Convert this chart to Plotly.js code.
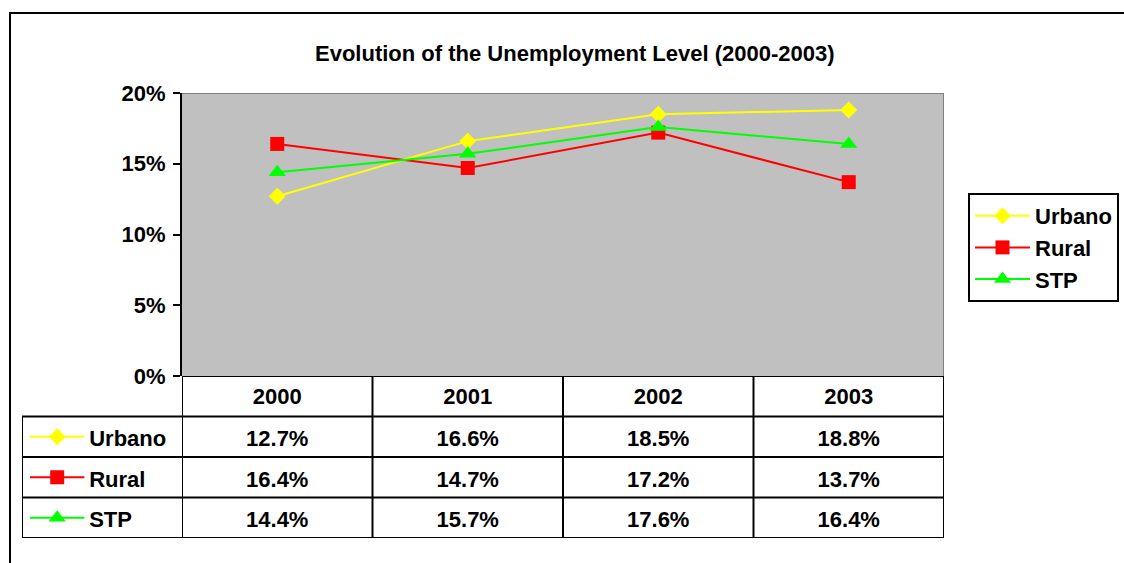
<!DOCTYPE html>
<html>
<head>
<meta charset="utf-8">
<script src="https://cdn.plot.ly/plotly-3.0.1.min.js"></script>
<style>html,body{margin:0;padding:0;background:#fff;}#chart{width:1124px;height:563px;}</style>
</head>
<body>
<div id="chart"></div>
<script>
const years = ['2000', '2001', '2002', '2003'];
const seriesNames = ['Urbano', 'Rural', 'STP'];
const urbano = [12.7, 16.6, 18.5, 18.8];
const rural = [16.4, 14.7, 17.2, 13.7];
const stp = [14.4, 15.7, 17.6, 16.4];
const yTicks = [0, 5, 10, 15, 20];

const values = [urbano, rural, stp];
const colors = ['#FFFF00', '#FF0000', '#00FF00'];
const symbols = ['diamond', 'square', 'triangle-up'];
const sizes = [13, 14, 15];

const W = 1124, H = 563;
const px = v => v / W, py = v => 1 - v / H;
const FONT = 'Liberation Sans, Arial, Helvetica, sans-serif';
const font = {family: FONT, size: 22, color: '#000', weight: 'bold'};

const traces = [];
values.forEach((vals, i) => {
  traces.push({
    type: 'scatter', mode: 'lines+markers', name: seriesNames[i],
    x: years, y: vals, xaxis: 'x', yaxis: 'y',
    line: {color: colors[i], width: 2},
    marker: {symbol: symbols[i], size: sizes[i], color: colors[i], line: {width: 0}},
    hoverinfo: 'skip'
  });
  // key inside data table
  traces.push({
    type: 'scatter', mode: 'lines', showlegend: false,
    x: [0.05, 0.39], y: [i, i], xaxis: 'x2', yaxis: 'y2',
    line: {color: colors[i], width: 2}, hoverinfo: 'skip'
  });
  traces.push({
    type: 'scatter', mode: 'markers', showlegend: false,
    x: [0.22], y: [i], xaxis: 'x2', yaxis: 'y2',
    marker: {symbol: symbols[i], size: sizes[i], color: colors[i], line: {width: 0}},
    hoverinfo: 'skip'
  });
});
// key labels in data table
traces.push({
  type: 'scatter', mode: 'text', showlegend: false,
  x: seriesNames.map(() => 0.42), y: seriesNames.map((_, i) => i),
  text: seriesNames, textposition: 'middle right', textfont: font,
  xaxis: 'x4', yaxis: 'y3', hoverinfo: 'skip'
});
// header years
traces.push({
  type: 'scatter', mode: 'text', showlegend: false,
  x: years, y: years.map(() => -1), text: years, textposition: 'middle center',
  textfont: font, xaxis: 'x3', yaxis: 'y4', hoverinfo: 'skip'
});
// cell values
values.forEach((vals, i) => {
  traces.push({
    type: 'scatter', mode: 'text', showlegend: false,
    x: years, y: vals.map(() => i), text: vals.map(v => v.toFixed(1) + '%'),
    textposition: 'middle center', textfont: font, xaxis: 'x3', yaxis: 'y3', hoverinfo: 'skip'
  });
});

const shapes = [];
const annotations = [];
const BL = {color: '#000', width: 2};
// outer frame
shapes.push({type: 'rect', xref: 'paper', yref: 'paper', x0: px(10), x1: 1.05, y0: -0.05, y1: py(13), line: BL, layer: 'below'});
// plot area gray background
shapes.push({type: 'rect', xref: 'x', yref: 'y', x0: -0.5, x1: 3.5, y0: 0, y1: 20, fillcolor: '#C0C0C0', line: {width: 0}, layer: 'below'});
// plot area gray border (top & right)
shapes.push({type: 'line', xref: 'x', yref: 'y', x0: -0.5, x1: 3.5, y0: 20, y1: 20, line: {color: '#808080', width: 2}});
shapes.push({type: 'line', xref: 'x', yref: 'y', x0: 3.5, x1: 3.5, y0: 0, y1: 20, line: {color: '#808080', width: 2}});
// table vertical lines
for (let k = 0; k <= years.length; k++) {
  shapes.push({type: 'line', xref: 'x3', yref: 'y2', x0: k - 0.5, x1: k - 0.5, y0: -1.5, y1: seriesNames.length - 0.5, line: BL});
}
// table horizontal lines
shapes.push({type: 'line', xref: 'x3', yref: 'y2', x0: -0.5, x1: years.length - 0.5, y0: -1.5, y1: -1.5, line: BL});
for (let r = 0; r <= seriesNames.length; r++) {
  shapes.push({type: 'line', xref: 'x2', yref: 'y2', x0: 0, x1: 1, y0: r - 0.5, y1: r - 0.5, line: BL});
  shapes.push({type: 'line', xref: 'x3', yref: 'y2', x0: -0.5, x1: years.length - 0.5, y0: r - 0.5, y1: r - 0.5, line: BL});
}
shapes.push({type: 'line', xref: 'x2', yref: 'y2', x0: 0, x1: 0, y0: -0.5, y1: seriesNames.length - 0.5, line: BL});

// title
annotations.push({xref: 'paper', yref: 'paper', x: px(575), y: py(54), xanchor: 'center', yanchor: 'middle',
  text: 'Evolution of the Unemployment Level (2000-2003)', showarrow: false, font});

const rowRange = [seriesNames.length - 0.5, -1.5];
const layout = {
  width: W, height: H,
  margin: {l: 0, r: 0, t: 0, b: 0},
  paper_bgcolor: '#fff',
  plot_bgcolor: 'rgba(0,0,0,0)',
  showlegend: true,
  legend: {
    x: px(968), y: py(193), xanchor: 'left', yanchor: 'top',
    bordercolor: '#000', borderwidth: 2, bgcolor: '#fff',
    font, itemwidth: 55, tracegroupgap: 0
  },
  xaxis: {
    domain: [px(182), px(944)], type: 'category', categoryarray: years,
    range: [-0.5, 3.5], showticklabels: false, ticks: '', showgrid: false,
    zeroline: false, showline: false, fixedrange: true
  },
  yaxis: {
    domain: [py(376), py(93)], range: [0, 20], tickvals: yTicks,
    ticktext: yTicks.map(t => t + '%'), ticks: 'outside', ticklen: 7, tickwidth: 2,
    tickcolor: '#000', showline: true, linecolor: '#000', linewidth: 2,
    showgrid: false, zeroline: false, tickfont: font, ticklabelstandoff: 3, fixedrange: true
  },
  xaxis2: {domain: [px(22), px(182)], range: [0, 1], visible: false, anchor: 'y2', fixedrange: true},
  xaxis4: {domain: [px(22), px(182)], range: [0, 1], visible: false, anchor: 'y3', fixedrange: true},
  xaxis3: {domain: [px(182), px(944)], type: 'category', categoryarray: years, range: [-0.5, 3.5],
    visible: false, anchor: 'y2', fixedrange: true},
  yaxis2: {domain: [py(538), py(376)], range: rowRange, visible: false, anchor: 'x2', fixedrange: true},
  yaxis3: {domain: [py(542), py(380)], range: rowRange, visible: false, anchor: 'x3', fixedrange: true},
  yaxis4: {domain: [py(540), py(378)], range: rowRange, visible: false, anchor: 'x3', fixedrange: true},
  shapes, annotations
};

Plotly.newPlot('chart', traces, layout, {displayModeBar: false, staticPlot: true});
</script>
</body>
</html>
